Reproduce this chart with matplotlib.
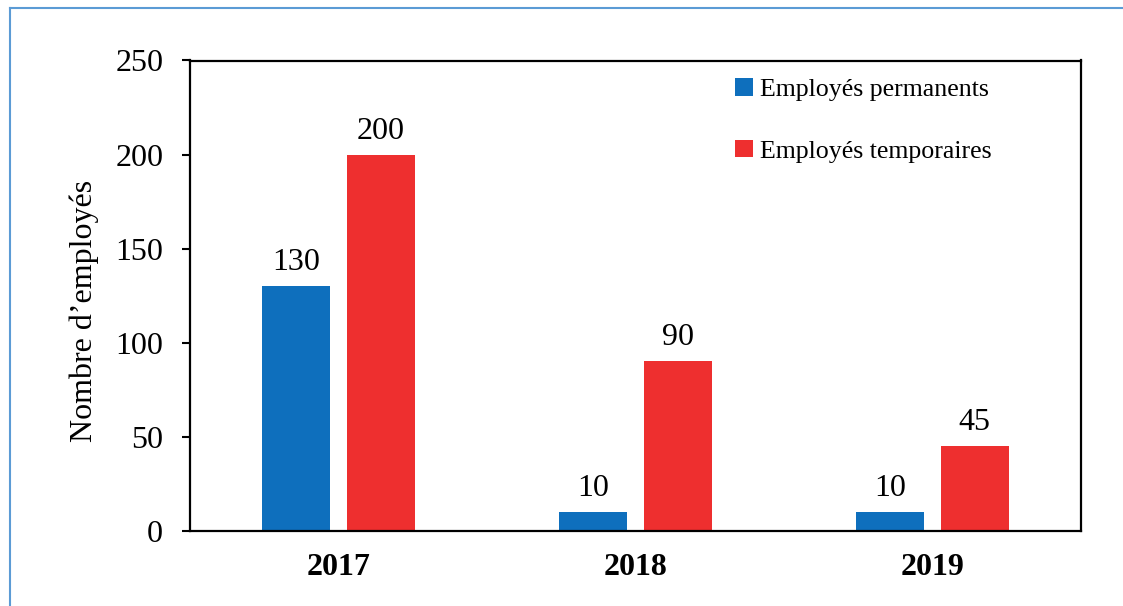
import matplotlib
matplotlib.use("Agg")
import matplotlib.pyplot as plt
import numpy as np
from matplotlib.lines import Line2D

years = ["2017", "2018", "2019"]
permanents = [130, 10, 10]
temporaires = [200, 90, 45]
series_names = ["Employés permanents", "Employés temporaires"]
ylabel = "Nombre d’employés"

blue = "#0E6FBD"
red = "#EE2F2F"

plt.rcParams["font.family"] = ["Liberation Serif", "DejaVu Serif"]

W, H = 1123, 606
fig = plt.figure(figsize=(W / 100, H / 100), dpi=100)
ax = fig.add_axes([190 / W, 1 - 530.5 / H, 891 / W, 470 / H])

x = np.arange(len(years))
bw = 0.23
off = 0.142
b1 = ax.bar(x - off, permanents, bw, color=blue, label=series_names[0], zorder=2)
b2 = ax.bar(x + off, temporaires, bw, color=red, label=series_names[1], zorder=2)

for bars, vals in ((b1, permanents), (b2, temporaires)):
    for rect, v in zip(bars, vals):
        ax.annotate(str(v), (rect.get_x() + rect.get_width() / 2, v),
                    xytext=(0, 11.5), textcoords="offset points",
                    ha="center", va="baseline", fontsize=23)

ax.set_xlim(-0.5, 2.5)
ax.set_ylim(0, 250)
ax.set_yticks([0, 50, 100, 150, 200, 250])
ax.tick_params(axis="y", direction="out", length=5.8, width=1.5, labelsize=23, pad=13.5)
ax.tick_params(axis="x", length=0, pad=16)
ax.set_xticks(x)
ax.set_xticklabels(years, fontsize=23, fontweight="bold")
for s in ax.spines.values():
    s.set_linewidth(1.6)
    s.set_color("black")

fig.text(84 / W, 1 - 311 / H, ylabel, rotation=90, ha="center", va="center", fontsize=23)

ax.legend(loc="upper left", bbox_to_anchor=(0.612, 0.962), frameon=False, fontsize=18.6,
          handlelength=0.7, handleheight=0.66, handletextpad=0.25, labelspacing=1.5,
          borderaxespad=0.0, borderpad=0.0)

# outer frame (top and left edges)
fig.add_artist(Line2D([10 / W, 1], [1 - 8 / H, 1 - 8 / H], transform=fig.transFigure,
                      color="#5B9BD5", lw=1.5))
fig.add_artist(Line2D([10 / W, 10 / W], [0, 1 - 8 / H], transform=fig.transFigure,
                      color="#5B9BD5", lw=1.5))

fig.savefig("out.png", dpi=100)
